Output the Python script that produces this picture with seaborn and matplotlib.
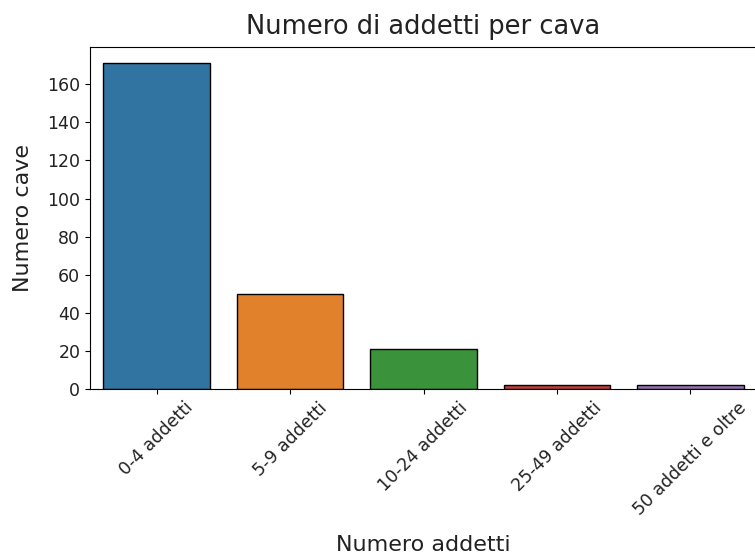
import pandas as pd
import matplotlib
matplotlib.use("Agg")
import matplotlib.pyplot as plt
import seaborn as sns

# ── Dati ────────────────────────────────────────────────────────────────
classi = ['0-4 addetti', '5-9 addetti', '10-24 addetti',
          '25-49 addetti', '50 addetti e oltre']
num_cave = [171, 50, 21, 2, 2]

df = pd.DataFrame({'Numero addetti': classi, 'Numero cave': num_cave})

# ── Grafico ─────────────────────────────────────────────────────────────
fig = plt.figure(figsize=(7.55, 5.56), dpi=100)
ax = fig.add_axes([90 / 755, 167 / 556, 667 / 755, 342 / 556])

sns.barplot(data=df, x='Numero addetti', y='Numero cave', hue='Numero addetti',
            palette='tab10', saturation=0.75, edgecolor='black',
            linewidth=1, legend=False, ax=ax)

ax.set_title('Numero di addetti per cava', fontsize=18.5, pad=9, color='#222222')
ax.set_xlabel('Numero addetti', fontsize=16, labelpad=12, color='#222222')
ax.set_ylabel('Numero cave', fontsize=16, labelpad=10, color='#222222')
ax.tick_params(axis='x', rotation=45, labelsize=12.5, labelcolor='#222222')
ax.tick_params(axis='y', labelsize=12.5, labelcolor='#222222')

plt.savefig('out.png', dpi=100)
